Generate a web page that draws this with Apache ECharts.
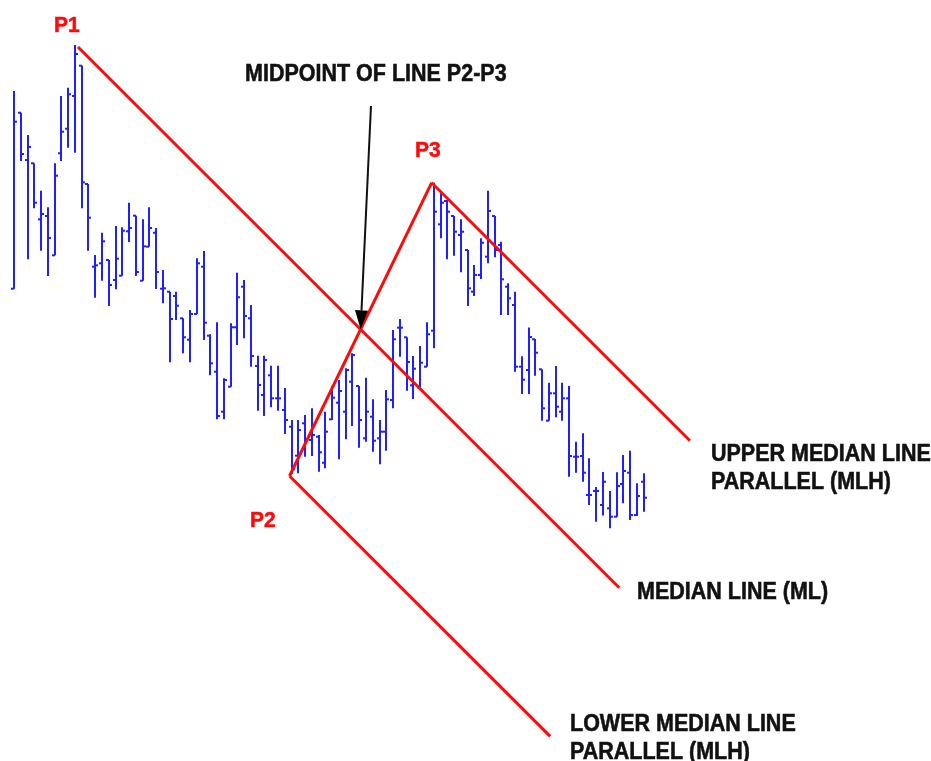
<!DOCTYPE html>
<html><head><meta charset="utf-8">
<script src="https://cdn.jsdelivr.net/npm/echarts@6/dist/echarts.min.js"></script>
<style>html,body{margin:0;padding:0;background:#fff}#c{width:931px;height:761px}</style>
</head><body><div id="c"></div>
<script>
// OHLC bars (price units), one entry per bar
const opens = [51.13,68.73,64.00,63.67,58.07,58.40,54.47,64.67,67.13,70.40,73.43,61.60,53.33,53.67,54.00,52.00,52.43,56.87,58.43,51.93,55.33,56.73,51.13,50.83,50.40,48.17,46.03,48.60,53.33,46.43,42.83,38.83,41.33,47.27,51.33,48.17,43.40,40.50,42.47,40.17,39.00,37.33,34.43,37.67,36.00,36.33,33.73,38.07,39.73,38.83,41.83,41.40,36.17,38.33,36.17,36.83,40.00,47.23,46.27,41.47,41.27,43.33,46.93,57.57,59.90,58.40,56.50,55.00,50.83,52.50,54.33,58.40,55.50,51.33,49.50,43.33,43.00,46.07,43.07,37.93,40.67,38.83,40.17,34.33,34.40,30.50,30.90,29.50,29.17,28.33,31.60,32.73,28.50,31.83];
const highs = [70.90,68.73,66.50,63.67,60.93,59.27,63.67,70.40,71.23,75.50,73.43,61.60,54.50,56.73,54.00,57.40,57.27,59.73,58.43,58.07,59.27,57.20,53.00,50.83,50.83,48.17,49.00,54.17,54.90,46.57,47.77,42.17,47.67,52.73,52.00,49.50,44.43,44.43,43.43,43.43,41.20,38.00,38.00,38.50,39.17,36.50,38.83,41.40,42.00,43.17,44.67,41.40,42.23,40.07,38.00,41.00,47.00,48.10,46.27,44.40,45.40,47.77,61.73,60.67,60.00,58.40,58.07,55.00,53.50,56.17,60.93,58.40,55.83,51.67,50.83,44.37,47.25,46.10,43.07,41.73,43.40,41.73,41.40,35.83,36.67,34.17,31.30,32.80,30.90,32.77,34.50,34.93,31.67,32.67];
const lows = [51.13,63.90,54.07,59.17,54.93,52.40,54.47,63.90,65.23,64.73,59.17,54.93,50.23,51.93,49.40,51.07,52.43,55.80,52.40,51.93,55.33,51.10,49.67,43.77,48.00,44.67,43.77,48.60,46.00,42.47,38.07,38.07,41.33,45.50,46.17,43.33,38.93,38.40,39.27,38.93,36.60,32.60,32.67,34.33,34.40,32.83,33.17,38.00,34.07,36.07,37.40,35.23,35.83,34.83,33.57,34.93,39.17,44.33,40.93,40.10,41.27,43.33,45.17,56.17,54.07,54.43,52.77,49.40,50.40,52.10,53.67,54.27,48.50,48.50,42.83,40.60,40.60,42.43,37.93,37.93,38.27,37.93,32.33,32.73,31.83,29.50,27.83,28.45,27.17,28.33,29.67,28.00,28.40,28.83];
const closes = [67.83,64.60,65.30,59.73,58.60,56.20,62.43,66.83,70.57,74.60,61.77,58.23,53.47,55.87,51.50,54.13,56.93,57.20,52.80,55.37,57.20,52.80,51.17,48.10,49.43,46.27,48.60,53.67,47.73,43.67,38.40,42.00,47.27,50.27,48.40,44.40,41.50,44.00,40.17,40.17,38.00,33.07,37.00,36.00,36.50,34.77,36.83,40.23,40.90,43.00,44.50,38.00,38.83,35.93,36.83,40.07,46.07,47.23,43.80,43.13,43.73,46.57,58.83,59.73,58.83,56.83,56.83,51.17,52.50,55.73,58.90,55.00,52.07,50.17,43.33,42.03,46.30,44.73,39.17,40.67,39.33,40.17,34.40,34.33,32.73,30.50,30.90,31.83,28.33,31.40,32.90,28.50,30.40,30.23];

// Pitchfork pivots [bar index, price]
const pivotP1 = [9.45, 75.30];
const pivotP2 = [40.7, 32.40];
const pivotP3 = [61.7, 61.73];
// bar index where each pitchfork line stops
const medianEnd = 89.4;
const upperEnd = 99.85;
const lowerEnd = 79.2;
// start of the annotation arrow [bar index, price]
const arrowStart = [52.73, 69.40];

const BLUE = '#1f1fff';
const RED = '#ff0a0a';

const mid = [(pivotP2[0] + pivotP3[0]) / 2, (pivotP2[1] + pivotP3[1]) / 2];
const slope = (mid[1] - pivotP1[1]) / (mid[0] - pivotP1[0]);
const along = (p, x) => [x, p[1] + slope * (x - p[0])];

function redLine(name, pts) {
  return {
    type: 'line', name: name, data: pts, symbol: 'none', silent: true,
    lineStyle: { color: RED, width: 3, cap: 'butt' }, clip: false, z: 3
  };
}

const chart = echarts.init(document.getElementById('c'), null, { renderer: 'canvas' });
const txt = (t, x, y, color, size, sy) => ({
  type: 'text', x: x, y: y, scaleY: sy, originX: 0, originY: 0,
  style: { text: t, fill: color, stroke: color, lineWidth: 0.5, font: 'bold ' + size + 'px "Liberation Sans", Arial, sans-serif', textVerticalAlign: 'middle', textAlign: 'left' }
});

chart.setOption({
  animation: false,
  backgroundColor: '#ffffff',
  grid: { left: 0, top: 0, width: 931, height: 761, containLabel: false },
  xAxis: { type: 'value', min: -14 / 6.77, max: (931 - 14) / 6.77, show: false },
  yAxis: { type: 'value', min: 3.9, max: 80, show: false },
  series: [
    {
      type: 'custom', name: 'bars', z: 2,
      data: opens.map((o, i) => [i, o, closes[i], lows[i], highs[i]]),
      encode: { x: 0, y: [1, 2, 3, 4] },
      renderItem: function (params, api) {
        const i = api.value(0);
        const o = api.coord([i, api.value(1)]);
        const c = api.coord([i, api.value(2)]);
        const l = api.coord([i, api.value(3)]);
        const h = api.coord([i, api.value(4)]);
        const x = Math.round(h[0]);
        const st = { stroke: BLUE, lineWidth: 2 };
        return {
          type: 'group', children: [
            { type: 'line', shape: { x1: x, y1: h[1], x2: x, y2: l[1] }, style: st },
            { type: 'line', shape: { x1: x - 3, y1: o[1], x2: x, y2: o[1] }, style: st },
            { type: 'line', shape: { x1: x, y1: c[1], x2: x + 3, y2: c[1] }, style: st }
          ]
        };
      }
    },
    redLine('P2-P3', [pivotP2, pivotP3]),
    redLine('Median Line', [pivotP1, along(pivotP1, medianEnd)]),
    redLine('Upper MLH', [pivotP3, along(pivotP3, upperEnd)]),
    redLine('Lower MLH', [pivotP2, along(pivotP2, lowerEnd)]),
    {
      type: 'custom', name: 'arrow', z: 4,
      data: [[arrowStart[0], arrowStart[1], mid[0], mid[1]]],
      encode: { x: [0, 2], y: [1, 3] },
      renderItem: function (params, api) {
        const s = api.coord([api.value(0), api.value(1)]);
        const t = api.coord([api.value(2), api.value(3)]);
        const dx = t[0] - s[0], dy = t[1] - s[1];
        const len = Math.sqrt(dx * dx + dy * dy);
        const ux = dx / len, uy = dy / len;
        const hl = 19, hw = 6.5;
        const bx = t[0] - ux * hl, by = t[1] - uy * hl;
        return {
          type: 'group', children: [
            { type: 'line', shape: { x1: s[0], y1: s[1], x2: bx, y2: by }, style: { stroke: '#111', lineWidth: 2 } },
            { type: 'polygon', shape: { points: [[t[0], t[1]], [bx - uy * hw, by + ux * hw], [bx + uy * hw, by - ux * hw]] }, style: { fill: '#000' } }
          ]
        };
      }
    }
  ],
  graphic: [
    txt('P1', 54, 26, RED, 21, 1.04),
    txt('P3', 415, 151, RED, 21, 1.04),
    txt('P2', 250, 521, RED, 21, 1.04),
    txt('MIDPOINT OF LINE P2-P3', 245, 74.5, '#111', 21.5, 1.08),
    txt('UPPER MEDIAN LINE', 711, 454.5, '#111', 21.5, 1.08),
    txt('PARALLEL (MLH)', 711, 483, '#111', 21.5, 1.08),
    txt('MEDIAN LINE (ML)', 637, 593, '#111', 21.5, 1.08),
    txt('LOWER MEDIAN LINE', 570, 724.5, '#111', 21.5, 1.08),
    txt('PARALLEL (MLH)', 570, 753, '#111', 21.5, 1.08)
  ]
});
</script>
</body></html>
